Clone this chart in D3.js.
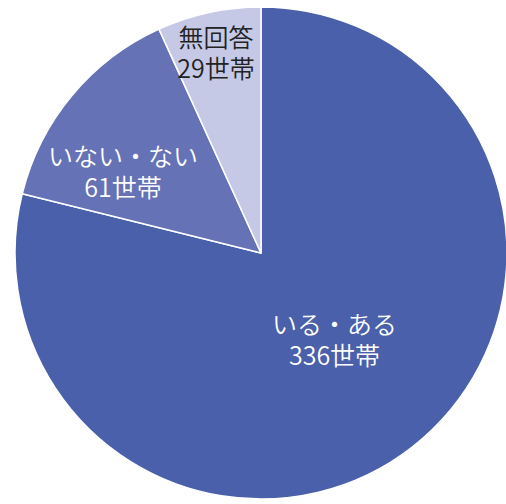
<!DOCTYPE html>
<html>
<head>
<meta charset="utf-8">
<script src="https://cdn.jsdelivr.net/npm/d3@7/dist/d3.min.js"></script>
<style>
html,body{margin:0;padding:0;background:#fff;}
svg{display:block;}
</style>
</head>
<body>
<svg id="chart" width="506" height="504"></svg>
<script>
const categories = ["いる・ある", "いない・ない", "無回答"];
const values = [336, 61, 29];
const unit = "世帯";
const colors = ["#4a60aa", "#6672b6", "#c6c9e6"];
const textColors = ["#ffffff", "#ffffff", "#222222"];

// layout (not data): label anchor as [angle in degrees, radius fraction]
const labelAnchor = [[140.1, 0.466], [-59.7, 0.65], [-12.7, 0.831]];

const W = 506, H = 504;
const cx = 261, cy = 253, R = 246;
const svg = d3.select("#chart");
const g = svg.append("g").attr("transform", `translate(${cx},${cy})`);

const data = categories.map((c, i) => ({cat: c, value: values[i], i}));
const pie = d3.pie().sort(null).value(d => d.value);
const arcs = pie(data);
const arc = d3.arc().innerRadius(0).outerRadius(R);

g.selectAll("path.slice").data(arcs).join("path")
  .attr("class", "slice")
  .attr("d", arc)
  .attr("fill", d => colors[d.data.i])
  .attr("stroke", "#ffffff")
  .attr("stroke-width", 1.5)
  .attr("stroke-linejoin", "round");

const fs = 25;
const labels = g.selectAll("text.lab").data(arcs).join("text")
  .attr("class", "lab")
  .attr("transform", d => {
    const [deg, k] = labelAnchor[d.data.i];
    const a = deg * Math.PI / 180;
    return `translate(${Math.sin(a) * R * k},${-Math.cos(a) * R * k})`;
  })
  .attr("text-anchor", "middle")
  .attr("font-family", "'Noto Sans CJK JP', 'Noto Sans', sans-serif")
  .attr("font-weight", 350)
  .attr("font-size", fs)
  .attr("fill", d => textColors[d.data.i]);

labels.each(function(d) {
  const sel = d3.select(this);
  const lines = [d.data.cat, d.data.value + unit];
  lines.forEach((t, j) => {
    sel.append("tspan")
      .attr("x", 0)
      .attr("y", (j - 0.5) * 31 + fs * 0.36)
      .text(t);
  });
});
</script>
</body>
</html>
